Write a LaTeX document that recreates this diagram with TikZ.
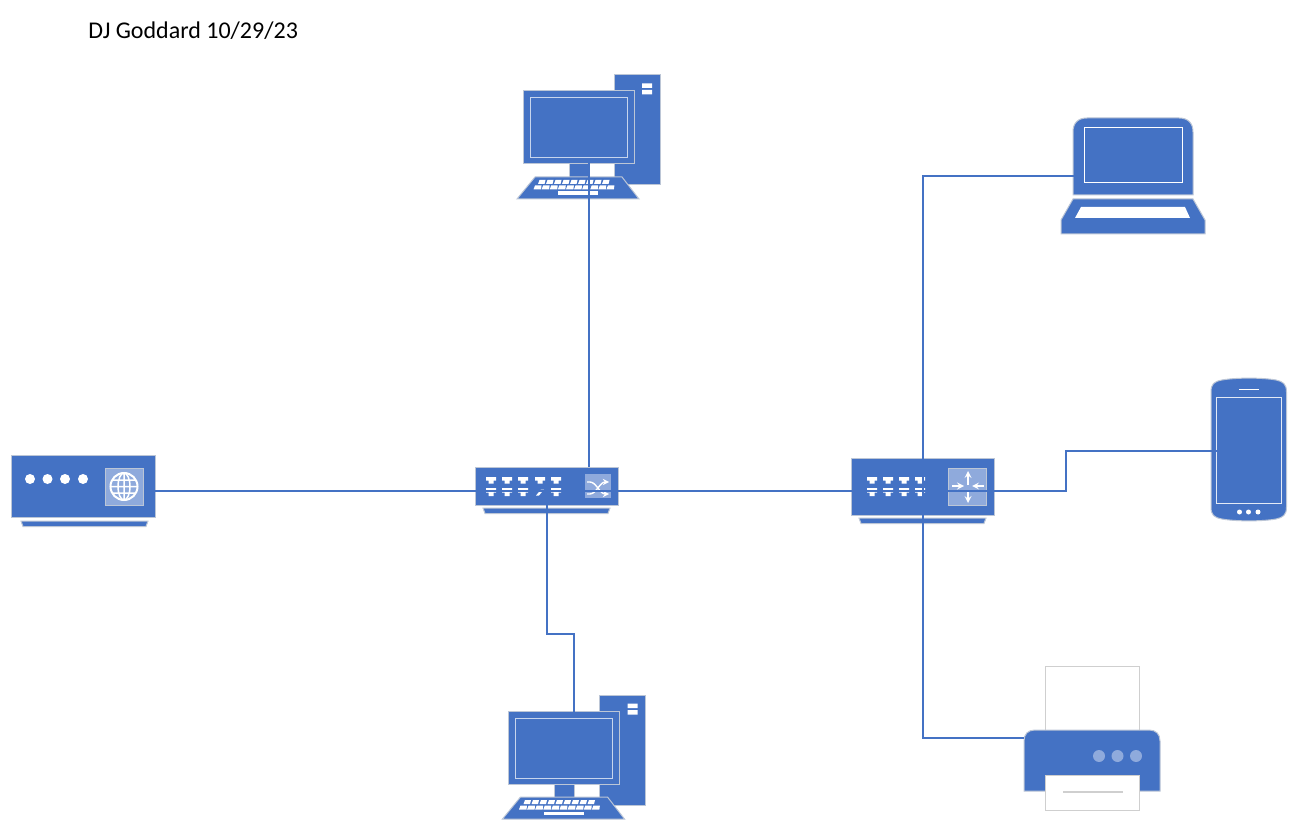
\documentclass[tikz,border=0pt]{standalone}
\usepackage{fontspec}
\setmainfont{Carlito}
\usetikzlibrary{calc, positioning}
\definecolor{devBlue}{HTML}{4472C4}
\definecolor{devLight}{HTML}{8FAADC}
\definecolor{devEdge}{HTML}{BCC6D6}
\definecolor{paperEdge}{HTML}{CFCFCF}
\def\px{0.75pt}
\tikzset{
	devshape/.style={fill=devBlue, draw=devEdge, line width=1*\px},
	iconbox/.style={rectangle, inner sep=0pt, outer sep=0pt},
	screenline/.style={rectangle, inner sep=0pt, outer sep=0pt, draw=white!70!devBlue, line width=1*\px},
	pane/.style={rectangle, inner sep=0pt, outer sep=0pt, fill=devLight, draw=devEdge, line width=.8*\px},
	link/.style={devBlue, line width=2*\px},
	glyph/.style={white, line width=1.7*\px, -{stealth}},
	port/.pic={
		\fill[white] (-5,0) -- (5,0) -- (5,3.5) -- (2.5,3.5) -- (2.5,6.5) -- (-2.5,6.5) -- (-2.5,3.5) -- (-5,3.5) -- cycle;
	},
	portlow/.pic={
		\fill[white] (-5,11) -- (5,11) -- (5,15.5) -- (2.5,15.5) -- (2.5,19) -- (-2.5,19) -- (-2.5,15.5) -- (-5,15.5) -- cycle;
	}
}
\begin{document}
\begin{tikzpicture}[x=\px, y=-\px]
	\useasboundingbox (0,0) rectangle (1297,831);
	\node[anchor=west, inner sep=0pt, font=\fontsize{18pt}{21pt}\selectfont] (stamp) at (88,31) {DJ Goddard 10/29/23};

	% whole icons, the links run to these
	\node[iconbox, minimum width=144*\px, minimum height=71*\px] (modem) at (83,490.5) {};
	\node[iconbox, minimum width=143*\px, minimum height=47*\px] (switch) at (546.5,490.5) {};
	\node[iconbox, minimum width=143*\px, minimum height=65*\px] (router) at (922.5,490.5) {};
	\node[iconbox, minimum width=143*\px, minimum height=124*\px] (pcA) at (588.5,137) {};
	\node[iconbox, minimum width=143*\px, minimum height=124*\px] (pcB) at (574,757) {};
	\node[iconbox, minimum width=144*\px, minimum height=116*\px] (laptop) at (1133,176) {};
	\node[iconbox, minimum width=75*\px, minimum height=143*\px] (phone) at (1248.5,449.5) {};
	\node[iconbox, minimum width=136*\px, minimum height=144*\px] (printer) at (1092,738) {};

	% feet under the boxes
	\foreach \x/\y in {21/521, 483/508, 859/518}
	{\draw[devshape] (\x,\y) -- ++(127,0) -- ++(-2,5.5) -- ++(-123,0) -- cycle;}

	% modem
	\node[devshape, iconbox, minimum width=144*\px, minimum height=62*\px] (modemBody) at (83,486) {};
	\node[pane, minimum width=38*\px, minimum height=37*\px] (modemPane) at (124,486.5) {};
	\foreach \x in {30,47.5,65,83}
	{\fill[white] (\x,479) circle (5);}
	\draw[white, line width=2*\px] (modemPane.center) circle (13.5);
	\draw[white, line width=1.5*\px] (modemPane.center) ellipse (6 and 13.5)
		(124,473) -- (124,500) (111,486.5) -- (137,486.5) (113,480) -- (135,480) (113,493) -- (135,493);

	% switch
	\node[devshape, iconbox, minimum width=143*\px, minimum height=38*\px] (switchBody) at (546.5,486) {};
	\foreach \x in {491,507,523,540,556}
	{\pic at (\x,477) {port};}
	\foreach \x in {491,507,523,556}
	{\pic at (\x,477) {portlow};}
	\fill[white] (536,495.5) -- (541,489.5) -- (544,489.5) -- (539,495.5) -- cycle;
	\node[pane, draw=none, minimum width=26*\px, minimum height=24*\px] (switchPane) at (598,486) {};
	\draw[white, line width=1.4*\px, ->, >=stealth] (587,482) -- (590,482) .. controls (596,482) and (600,494) .. (609,494);
	\draw[white, line width=1.4*\px, ->, >=stealth] (587,494) -- (590,494) .. controls (596,494) and (600,482) .. (609,482);

	% router
	\node[devshape, iconbox, minimum width=143*\px, minimum height=57*\px] (routerBody) at (922.5,486.5) {};
	\foreach \x in {872,888,904,920}
	{\pic at (\x,477) {port}; \pic at (\x,477) {portlow};}
	\node[pane, minimum width=38*\px, minimum height=37*\px] (routerPane) at (967.5,486.5) {};
	\draw[glyph] (968,485) -- (968,471);
	\draw[glyph] (968,492) -- (968,503);
	\draw[glyph] (952,486) -- (964,486);
	\draw[glyph] (984,486) -- (972,486);

	% both desktops
	\foreach \dx/\dy/\name in {0/0/pcA, -14.5/620/pcB}{
		\begin{scope}[shift={(\dx,\dy)}]
			\node[devshape, iconbox, minimum width=46*\px, minimum height=110*\px] (\name Tower) at (637,130) {};
			\fill[white] (642,83.5) rectangle (652,88) (642,90) rectangle (652,94.5);
			\draw[devshape] (569,164) rectangle (589,178);
			\node[devshape, iconbox, minimum width=111*\px, minimum height=73*\px] (\name Monitor) at (578.5,127.5) {};
			\node[screenline, minimum width=97*\px, minimum height=60*\px] (\name screen) at (578.5,128) {};
			\draw[devshape] (535,177) -- (622,177) -- (639,199) -- (517,199) -- cycle;
			\foreach \k in {0,...,8}
			{\fill[white] ({539.5+8*\k},180) -- ({545.5+8*\k},180) -- ({544.5+8*\k},184) -- ({538+8*\k},184) -- cycle;}
			\foreach \k in {0,...,9}
			{\fill[white] ({535+8.1*\k},185.5) -- ({541.5+8.1*\k},185.5) -- ({541+8.1*\k},189.5) -- ({533.5+8.1*\k},189.5) -- cycle;}
			\fill[white] (558,191.5) rectangle (598,195);
		\end{scope}
	}

	% laptop
	\draw[devshape] (1073,195) -- (1073,132) .. controls (1073,123) and (1078,118) .. (1087,118) -- (1179,118) .. controls (1188,118) and (1193,123) .. (1193,132) -- (1193,195) -- cycle;
	\node[screenline, draw=white, minimum width=98*\px, minimum height=55*\px] (laptopScreen) at (1133,155.5) {};
	\draw[devshape] (1073,199) -- (1193,199) -- (1205,220) -- (1205,234) -- (1061,234) -- (1061,220) -- cycle;
	\fill[white] (1081,207) -- (1185,207) -- (1190,218) -- (1075,218) -- cycle;

	% phone
	\draw[devshape] (1211,392) .. controls (1211,384) and (1214,381.5) .. (1222,380) .. controls (1236,377.5) and (1262,377.5) .. (1276,380) .. controls (1283,381.5) and (1286.5,384) .. (1286.5,392)
		-- (1286.5,507) .. controls (1286.5,515) and (1283,517.5) .. (1276,519) .. controls (1262,521.5) and (1236,521.5) .. (1222,519) .. controls (1214,517.5) and (1211,515) .. (1211,507) -- cycle;
	\node[screenline, draw=white!85!devBlue, minimum width=64.5*\px, minimum height=106*\px] (phoneScreen) at (1248.75,450.5) {};
	\draw[white, line width=1.2*\px] (1239,389.5) -- (1259,389.5);
	\foreach \x in {1239.5,1248.5,1258}
	{\fill[white] (\x,512) circle (2.5);}

	% printer
	\node[iconbox, draw=paperEdge, fill=white, line width=1*\px, minimum width=94*\px, minimum height=65*\px] (printerPaper) at (1092,698.5) {};
	\draw[devshape] (1024,791) -- (1024,741) .. controls (1024,734) and (1028,730) .. (1035,730) -- (1149,730) .. controls (1156,730) and (1160,734) .. (1160,741) -- (1160,791) -- cycle;
	\node[iconbox, minimum width=136*\px, minimum height=61*\px] (printerBody) at (1092,760.5) {};
	\foreach \x in {1099,1117.5,1136}
	{\fill[devLight] (\x,756) circle (6);}
	\node[iconbox, draw=paperEdge, fill=white, line width=1*\px, minimum width=94*\px, minimum height=35*\px] (printerTray) at (1092,792.5) {};
	\draw[paperEdge, line width=1.2*\px] (1063,792) -- (1123,792);

	% links
	\coordinate (jogB) at (560,634);
	\coordinate (jogC) at (1066,470);
	\draw[link] (modem.east) -- (switch.center);
	\draw[link] (switch.center) -- (router.center);
	\draw[link] (switchBody.north -| pcA.center) -- (pcA.center |- pcAscreen.south);
	\draw[link] (switch.center) |- (jogB) -| (pcB.center |- pcBscreen.north);
	\draw[link] (router.center) |- (laptopScreen.west |- laptop.center);
	\draw[link] (router.center) -| (jogC) |- (phoneScreen.west);
	\draw[link] (router.center) |- (printerBody.west |- printer.center);
\end{tikzpicture}
\end{document}
